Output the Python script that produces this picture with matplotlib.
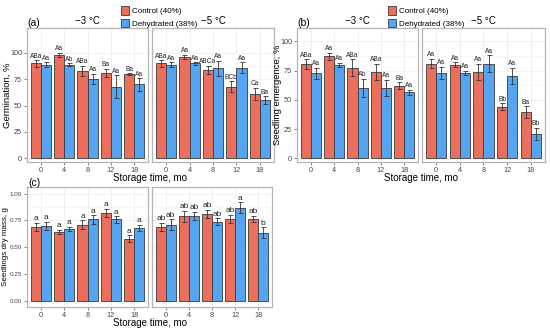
import matplotlib
matplotlib.use("Agg")
import matplotlib.pyplot as plt
import numpy as np
from matplotlib.patches import Patch

months = ["0", "4", "8", "12", "18"]
temps = ["\u22123 \u00b0C", "\u22125 \u00b0C"]
series_names = ["Control (40%)", "Dehydrated (38%)"]

# Panel (a) germination, %
germ_ctrl_m3 = [90, 98, 83, 81, 80]
germ_ctrl_m3_err = [3, 2, 5, 4, 0.5]
germ_dehy_m3 = [89, 89, 75, 68, 70]
germ_dehy_m3_err = [2, 1, 5, 11, 6]
germ_ctrl_m5 = [90, 96.5, 84, 68, 61]
germ_ctrl_m5_err = [3, 2, 4, 5, 6]
germ_dehy_m5 = [89, 90, 85.5, 86, 55]
germ_dehy_m5_err = [2, 1, 7, 5, 4]
germ_lab_ctrl_m3 = ["ABa", "Aa", "ABa", "Ba", "Ba"]
germ_lab_dehy_m3 = ["Aa", "Ab", "Aa", "Aa", "Aa"]
germ_lab_ctrl_m5 = ["ABa", "Aa", "ABCa", "BCb", "Ca"]
germ_lab_dehy_m5 = ["Aa", "Aa", "Aa", "Aa", "Ba"]

# Panel (b) seedling emergence, %
emer_ctrl_m3 = [80.6, 87.4, 77.5, 74, 62]
emer_ctrl_m3_err = [4, 3, 7, 7, 3]
emer_dehy_m3 = [72.6, 79.7, 60, 60, 56.5]
emer_dehy_m3_err = [5, 2, 8, 7, 2]
emer_ctrl_m5 = [81, 80, 74, 44, 39.5]
emer_ctrl_m5_err = [4, 2, 7, 3, 5]
emer_dehy_m5 = [73, 73, 81, 70.6, 21]
emer_dehy_m5_err = [5, 2, 7, 7, 5]
emer_lab_ctrl_m3 = ["ABa", "Aa", "ABa", "ABa", "Ba"]
emer_lab_dehy_m3 = ["Aa", "Aa", "Ab", "Aa", "Aa"]
emer_lab_ctrl_m5 = ["Aa", "Aa", "Aa", "Bb", "Ba"]
emer_lab_dehy_m5 = ["Aa", "Aa", "Aa", "Aa", "Bb"]

# Panel (c) seedlings dry mass, g
mass_ctrl_m3 = [0.69, 0.645, 0.71, 0.82, 0.58]
mass_ctrl_m3_err = [0.04, 0.02, 0.04, 0.04, 0.03]
mass_dehy_m3 = [0.70, 0.67, 0.76, 0.76, 0.68]
mass_dehy_m3_err = [0.04, 0.02, 0.04, 0.03, 0.03]
mass_ctrl_m5 = [0.69, 0.79, 0.81, 0.765, 0.765]
mass_ctrl_m5_err = [0.04, 0.05, 0.04, 0.04, 0.03]
mass_dehy_m5 = [0.71, 0.79, 0.74, 0.87, 0.635]
mass_dehy_m5_err = [0.05, 0.04, 0.03, 0.05, 0.05]
mass_lab_ctrl_m3 = ["a", "a", "a", "a", "a"]
mass_lab_dehy_m3 = ["a", "a", "a", "a", "a"]
mass_lab_ctrl_m5 = ["ab", "ab", "ab", "ab", "ab"]
mass_lab_dehy_m5 = ["ab", "ab", "ab", "a", "b"]

C_CTRL = "#EC6E5C"
C_DEHY = "#55A5F2"
EDGE = "#3a3a3a"
BORDER = "#b5b5b5"

plt.rcParams["font.family"] = ["Liberation Sans", "DejaVu Sans"]

W, H = 550, 330
fig = plt.figure(figsize=(5.5, 3.3), dpi=100)


def px_axes(x0, y0, x1, y1):
    return fig.add_axes([x0 / W, 1 - y1 / H, (x1 - x0) / W, (y1 - y0) / H])


def draw(ax, ctrl, ctrl_e, dehy, dehy_e, lab_c, lab_d, ylim, yticks, ytl, show_y, off, fs, tfs):
    x = np.arange(len(months))
    bw = 0.43
    ax.set_xlim(-0.6, 4.6)
    ax.set_ylim(*ylim)
    for yt in yticks:
        ax.axhline(yt, color="#ececec", lw=0.5, zorder=0)
    for i in range(len(yticks) - 1):
        ax.axhline((yticks[i] + yticks[i + 1]) / 2, color="#f4f4f4", lw=0.4, zorder=0)
    for xi in x:
        ax.axvline(xi, color="#ececec", lw=0.5, zorder=0)
    ax.bar(x - bw / 2, ctrl, bw, color=C_CTRL, edgecolor=EDGE, lw=0.6, zorder=2)
    ax.bar(x + bw / 2, dehy, bw, color=C_DEHY, edgecolor=EDGE, lw=0.6, zorder=2)
    ax.errorbar(x - bw / 2, ctrl, yerr=ctrl_e, fmt="none", ecolor="#333333",
                elinewidth=0.6, capsize=1.8, capthick=0.6, zorder=3)
    ax.errorbar(x + bw / 2, dehy, yerr=dehy_e, fmt="none", ecolor="#333333",
                elinewidth=0.6, capsize=1.8, capthick=0.6, zorder=3)
    for xi, v, e, t in zip(x - bw / 2, ctrl, ctrl_e, lab_c):
        ax.text(xi, v + e + off, t, ha="center", va="bottom", fontsize=fs, color="#222222")
    for xi, v, e, t in zip(x + bw / 2, dehy, dehy_e, lab_d):
        ax.text(xi, v + e + off, t, ha="center", va="bottom", fontsize=fs, color="#222222")
    ax.set_xticks(x)
    ax.set_xticklabels(months, fontsize=5.2, color="#444444")
    ax.set_yticks(yticks)
    ax.tick_params(axis="both", length=2, width=0.5, color="#555555", pad=1.5)
    if show_y:
        ax.set_yticklabels(ytl, fontsize=tfs, color="#444444")
    else:
        ax.set_yticklabels([])
        ax.tick_params(axis="y", length=0)
    for s in ax.spines.values():
        s.set_color(BORDER)
        s.set_linewidth(0.9)


# Panel (a)
ylim_a = (-3.8, 123.8)
yt_a = [0, 25, 50, 75, 100]
ytl_a = ["0", "25", "50", "75", "100"]
a1 = px_axes(27, 28, 148, 162)
draw(a1, germ_ctrl_m3, germ_ctrl_m3_err, germ_dehy_m3, germ_dehy_m3_err,
     germ_lab_ctrl_m3, germ_lab_dehy_m3, ylim_a, yt_a, ytl_a, True, 0.5, 4.8, 5.2)
a2 = px_axes(152, 28, 274, 162)
draw(a2, germ_ctrl_m5, germ_ctrl_m5_err, germ_dehy_m5, germ_dehy_m5_err,
     germ_lab_ctrl_m5, germ_lab_dehy_m5, ylim_a, yt_a, ytl_a, False, 0.5, 4.8, 5.2)

# Panel (b)
ylim_b = (-3.2, 111.4)
b1 = px_axes(297, 28, 418, 162)
draw(b1, emer_ctrl_m3, emer_ctrl_m3_err, emer_dehy_m3, emer_dehy_m3_err,
     emer_lab_ctrl_m3, emer_lab_dehy_m3, ylim_b, yt_a, ytl_a, True, 0.5, 4.8, 5.2)
b2 = px_axes(422, 28, 545, 162)
draw(b2, emer_ctrl_m5, emer_ctrl_m5_err, emer_dehy_m5, emer_dehy_m5_err,
     emer_lab_ctrl_m5, emer_lab_dehy_m5, ylim_b, yt_a, ytl_a, False, 0.5, 4.8, 5.2)

# Panel (c)
ylim_c = (-0.059, 1.063)
yt_c = [0, 0.25, 0.5, 0.75, 1.0]
ytl_c = ["0.00", "0.25", "0.50", "0.75", "1.00"]
c1 = px_axes(27, 187, 148, 307)
draw(c1, mass_ctrl_m3, mass_ctrl_m3_err, mass_dehy_m3, mass_dehy_m3_err,
     mass_lab_ctrl_m3, mass_lab_dehy_m3, ylim_c, yt_c, ytl_c, True, 0.005, 6, 4.5)
c2 = px_axes(152, 187, 272, 307)
draw(c2, mass_ctrl_m5, mass_ctrl_m5_err, mass_dehy_m5, mass_dehy_m5_err,
     mass_lab_ctrl_m5, mass_lab_dehy_m5, ylim_c, yt_c, ytl_c, False, 0.005, 6, 4.5)

# y labels
fig.text(7 / W, 1 - 95 / H, "Germination, %", fontsize=6.8, rotation=90, ha="center", va="center")
fig.text(278 / W, 1 - 95 / H, "Seedling emergence, %", fontsize=6.8, rotation=90, ha="center", va="center")
fig.text(6 / W, 1 - 247 / H, "Seedlings dry mass, g", fontsize=5.8, rotation=90, ha="center", va="center")

# Strip titles
for ax in (a1, b1):
    ax.set_title(temps[0], fontsize=7, pad=3)
for ax in (a2, b2):
    ax.set_title(temps[1], fontsize=7, pad=3)

# Panel labels
fig.text(27 / W, 1 - 23 / H, "(a)", fontsize=7.5, va="center", ha="left")
fig.text(297 / W, 1 - 23 / H, "(b)", fontsize=7.5, va="center", ha="left")
fig.text(28 / W, 1 - 183 / H, "(c)", fontsize=7.5, va="center", ha="left")

# x labels
fig.text(150 / W, 1 - 178 / H, "Storage time, mo", fontsize=7, ha="center", va="center")
fig.text(421 / W, 1 - 178 / H, "Storage time, mo", fontsize=7, ha="center", va="center")
fig.text(150 / W, 1 - 323 / H, "Storage time, mo", fontsize=7, ha="center", va="center")

# Legends
handles = [Patch(facecolor=C_CTRL, edgecolor=EDGE, lw=0.6, label=series_names[0]),
           Patch(facecolor=C_DEHY, edgecolor=EDGE, lw=0.6, label=series_names[1])]
for xl in (116, 383):
    fig.legend(handles=handles, loc="upper left", bbox_to_anchor=(xl / W, 1 - 1 / H),
               frameon=False, fontsize=5.8, handlelength=1.0, handleheight=1.3,
               handletextpad=0.4, labelspacing=0.45, borderpad=0.1)

fig.savefig("out.png", dpi=100)
